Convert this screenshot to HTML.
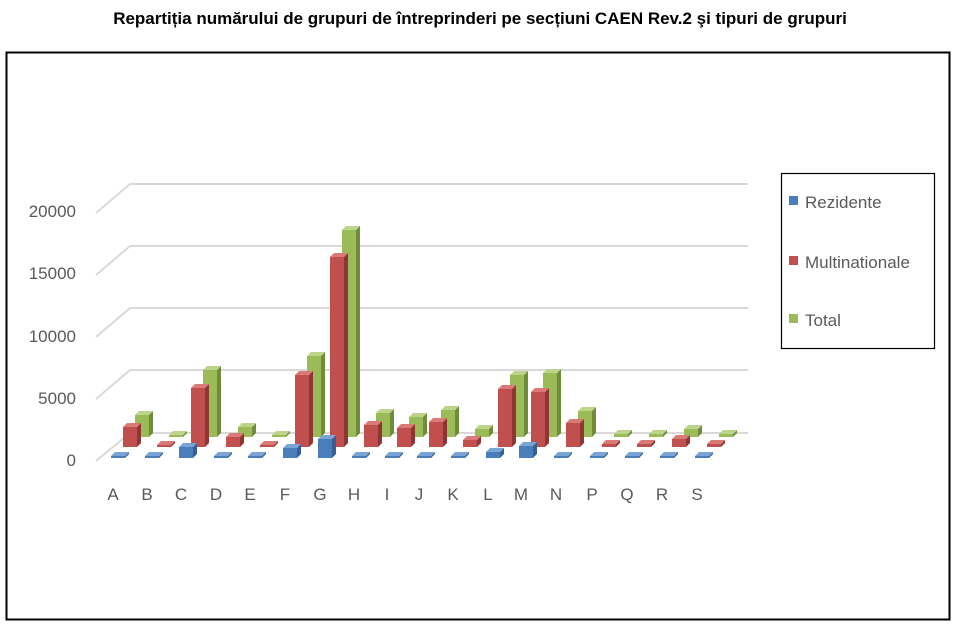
<!DOCTYPE html>
<html><head><meta charset="utf-8"><style>
body{margin:0;background:#fff;width:960px;height:629px;overflow:hidden;font-family:"Liberation Sans",sans-serif}
</style></head><body>
<svg width="960" height="629" xmlns="http://www.w3.org/2000/svg" id="s">
<text x="480" y="24" text-anchor="middle" font-family="Liberation Sans,sans-serif" font-weight="bold" font-size="17" fill="#000">Repartiția numărului de grupuri de întreprinderi pe secțiuni CAEN Rev.2 şi tipuri de grupuri</text>
<rect x="6.5" y="52.5" width="943" height="567" fill="none" stroke="#000" stroke-width="2"/>
<g stroke="#d9d9d9" stroke-width="2" fill="none">
<line x1="130" y1="184" x2="748" y2="184"/><line x1="130" y1="246" x2="748" y2="246"/>
<line x1="130" y1="308" x2="748" y2="308"/><line x1="130" y1="370" x2="748" y2="370"/>
<line x1="130" y1="433" x2="748" y2="433"/>
<line x1="130" y1="184" x2="96" y2="213"/><line x1="130" y1="246" x2="96" y2="275"/>
<line x1="130" y1="308" x2="96" y2="337"/><line x1="130" y1="370" x2="96" y2="399"/>
<line x1="130" y1="433" x2="96" y2="461"/>
</g>
<g font-family="Liberation Sans,sans-serif" font-size="17" fill="#595959" text-anchor="end">
<text x="76" y="217">20000</text><text x="76" y="279">15000</text><text x="76" y="342">10000</text><text x="76" y="404">5000</text><text x="76" y="466">0</text>
</g>
<g font-family="Liberation Sans,sans-serif" font-size="17" fill="#595959" text-anchor="middle">
<text x="113" y="500">A</text><text x="147" y="500">B</text><text x="181" y="500">C</text><text x="216" y="500">D</text><text x="250" y="500">E</text><text x="285" y="500">F</text><text x="320" y="500">G</text><text x="354" y="500">H</text><text x="387" y="500">I</text><text x="419" y="500">J</text><text x="453" y="500">K</text><text x="488" y="500">L</text><text x="521" y="500">M</text><text x="556" y="500">N</text><text x="592" y="500">P</text><text x="627" y="500">Q</text><text x="662" y="500">R</text><text x="697" y="500">S</text>
</g>
<g id="bars"></g>
<rect x="781.5" y="173.5" width="153" height="175" fill="#fff" stroke="#000" stroke-width="1.2"/>
<rect x="789" y="196" width="9" height="9" fill="#4a7ebb"/>
<rect x="789" y="256" width="9" height="9" fill="#c0504d"/>
<rect x="789" y="314" width="9" height="9" fill="#9bbb59"/>
<g font-family="Liberation Sans,sans-serif" font-size="17" fill="#595959">
<text x="805" y="208">Rezidente</text><text x="805" y="268">Multinationale</text><text x="805" y="326">Total</text>
</g>
</svg>
<script>
var L=[113,147,181,216,250,285,320,354,387,419,453,488,521,556,592,627,662,697];
var R=[20,2,59,10,2,72,190,22,19,25,7,58,55,24,3,3,8,3];
var G=[22,2,67,10,2,81,207,24,20,27,8,62,64,26,3,3,8,3];
var B=[2,2,11,2,2,10,19,2,2,2,2,6,12,2,2,2,2,2];
var col={b:["#4a7ebb","#365f94","#7aa3d6"],r:["#c0504d","#8f3533","#d97a77"],g:["#9bbb59","#6f8c38","#bcd58a"]};
var out="";
function bar(cx,base,h,c){var w=14,d=4,x=cx-w/2,y=base-h;
out+='<polygon points="'+(x+w)+','+y+' '+(x+w+d)+','+(y-d)+' '+(x+w+d)+','+(base-d)+' '+(x+w)+','+base+'" fill="'+c[1]+'"/>';
out+='<rect x="'+x+'" y="'+y+'" width="'+w+'" height="'+h+'" fill="'+c[0]+'"/>';
out+='<polygon points="'+x+','+y+' '+(x+d)+','+(y-d)+' '+(x+w+d)+','+(y-d)+' '+(x+w)+','+y+'" fill="'+c[2]+'"/>';}
for(var i=0;i<L.length;i++){bar(L[i]+29,437,G[i],col.g);}
for(var i=0;i<L.length;i++){bar(L[i]+17,447,R[i],col.r);}
for(var i=0;i<L.length;i++){bar(L[i]+5,458,B[i],col.b);}
document.getElementById("bars").innerHTML=out;
</script>
</body></html>
